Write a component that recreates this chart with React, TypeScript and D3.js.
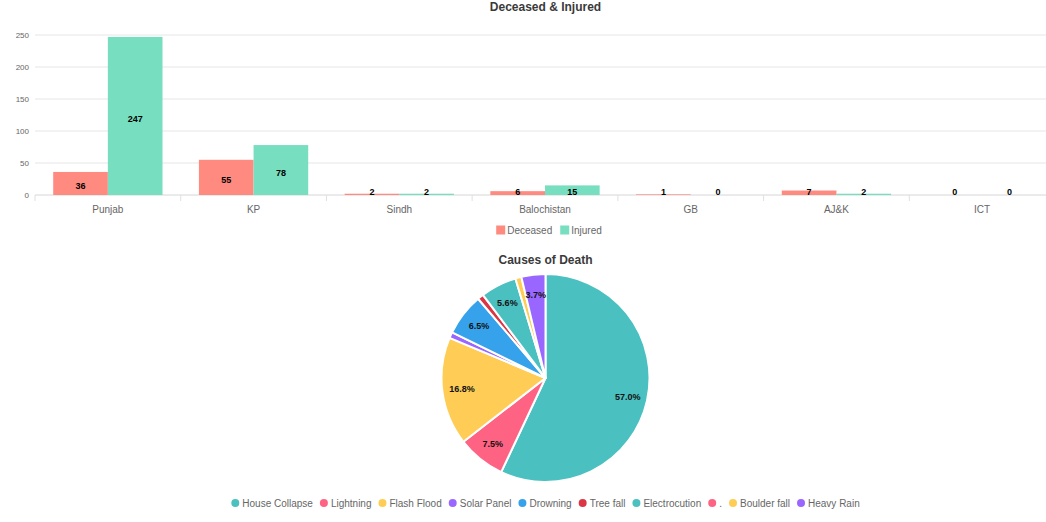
import * as d3 from "d3";

// Casualties by region, plus breakdown of causes of death.
const regions = ["Punjab", "KP", "Sindh", "Balochistan", "GB", "AJ&K", "ICT"];
const deceased = [36, 55, 2, 6, 1, 7, 0];
const injured = [247, 78, 2, 15, 0, 2, 0];
const yTicks = [0, 50, 100, 150, 200, 250];

const causes = [
  "House Collapse",
  "Lightning",
  "Flash Flood",
  "Solar Panel",
  "Drowning",
  "Tree fall",
  "Electrocution",
  ".",
  "Boulder fall",
  "Heavy Rain",
];
const causeCounts = [61, 8, 18, 1, 7, 1, 6, 0, 1, 4];
const causeColors = [
  "#4BC0C0",
  "#FF6384",
  "#FFCD56",
  "#9966FF",
  "#36A2EB",
  "#DC3545",
  "#4BC0C0",
  "#FF6384",
  "#FFCD56",
  "#9966FF",
];

const W = 1046;
const H = 522;
const FONT = '"Liberation Sans", Arial, Helvetica, sans-serif';
const SERIES = ["Deceased", "Injured"];
const SERIES_COLORS = ["#FF8A80", "#77DEBF"];

// Bar chart area
const BAR = { left: 35, right: 1055, top: 35, bottom: 195 };
// Pie
const PIE = { cx: 545.5, cy: 378, r: 104 };

const measureCtx =
  typeof document !== "undefined"
    ? document.createElement("canvas").getContext("2d")
    : null;

function textWidth(s: string, size: number) {
  if (!measureCtx) return s.length * size * 0.55;
  measureCtx.font = `${size}px ${FONT}`;
  return measureCtx.measureText(s).width;
}

export default function App() {
  const x0 = d3
    .scaleBand<string>()
    .domain(regions)
    .range([BAR.left, BAR.right])
    .paddingInner(0.25)
    .paddingOuter(0.125);
  const x1 = d3
    .scaleBand<string>()
    .domain(SERIES)
    .range([0, x0.bandwidth()]);
  const y = d3.scaleLinear().domain([0, 250]).range([BAR.bottom, BAR.top]);
  const step = x0.step();

  const values = [deceased, injured];

  const pie = d3
    .pie<number>()
    .sort(null)
    .value((d) => d)
    .startAngle(0)
    .endAngle(Math.PI * 2);
  const arcs = pie(causeCounts);
  const total = d3.sum(causeCounts);
  const arc = d3.arc<d3.PieArcDatum<number>>().innerRadius(0).outerRadius(PIE.r);
  const labelArc = d3
    .arc<d3.PieArcDatum<number>>()
    .innerRadius(PIE.r * 0.81)
    .outerRadius(PIE.r * 0.81);

  // Pie legend layout: dot, gap, label, spacing; centred under the chart.
  const legendFont = 10;
  const dot = 8;
  const items = causes.map((c) => dot + 3 + textWidth(c, legendFont));
  const gap = 7;
  const legendTotal = d3.sum(items) + gap * (items.length - 1);
  let lx = PIE.cx - legendTotal / 2;
  const legendPos = items.map((w) => {
    const p = lx;
    lx += w + gap;
    return p;
  });

  // Bar legend
  const box = 9;
  const barItems = SERIES.map((s) => box + 2 + textWidth(s, 10));
  const barGap = 8;
  const barLegendTotal = d3.sum(barItems) + barGap;
  let bx = 549 - barLegendTotal / 2;
  const barLegendPos = barItems.map((w) => {
    const p = bx;
    bx += w + barGap;
    return p;
  });

  return (
    <svg
      width={W}
      height={H}
      style={{ position: "absolute", left: 0, top: 0, background: "#fff" }}
      fontFamily={FONT}
    >
      {/* Bar chart title */}
      <text x={545.5} y={11} textAnchor="middle" fontSize={12} fontWeight="bold" fill="#3a3a3a">
        Deceased &amp; Injured
      </text>

      {/* Horizontal grid */}
      {yTicks.map((t) => (
        <g key={t}>
          <line
            x1={BAR.left}
            x2={W}
            y1={y(t)}
            y2={y(t)}
            stroke={t === 0 ? "#d6d6d6" : "#e6e6e6"}
            strokeWidth={1}
          />
          <text x={29} y={y(t)} dy="0.35em" textAnchor="end" fontSize={8} fill="#666">
            {t}
          </text>
        </g>
      ))}

      {/* Category separators */}
      {d3.range(regions.length + 1).map((i) => (
        <line
          key={i}
          x1={BAR.left + i * step}
          x2={BAR.left + i * step}
          y1={BAR.bottom}
          y2={BAR.bottom + 6}
          stroke="#e0e0e0"
        />
      ))}

      {/* Bars */}
      {regions.map((r, i) => (
        <g key={r} transform={`translate(${x0(r)},0)`}>
          {SERIES.map((s, k) => {
            const v = values[k][i];
            const top = y(v);
            return (
              <rect
                key={s}
                x={x1(s)}
                y={top}
                width={x1.bandwidth()}
                height={BAR.bottom - top}
                fill={SERIES_COLORS[k]}
              />
            );
          })}
          {SERIES.map((s, k) => {
            const v = values[k][i];
            const mid = (y(v) + BAR.bottom) / 2;
            return (
              <text
                key={s}
                x={(x1(s) ?? 0) + x1.bandwidth() / 2}
                y={Math.min(mid + 2.5, 192)}
                dy="0.35em"
                textAnchor="middle"
                fontSize={9}
                fontWeight="bold"
                fill="#000"
              >
                {v}
              </text>
            );
          })}
          <text
            x={x0.bandwidth() / 2}
            y={209}
            dy="0.35em"
            textAnchor="middle"
            fontSize={10}
            fill="#666"
          >
            {r}
          </text>
        </g>
      ))}

      {/* Bar legend */}
      {SERIES.map((s, k) => (
        <g key={s} transform={`translate(${barLegendPos[k]},230)`}>
          <rect x={0} y={-box / 2} width={box} height={box} fill={SERIES_COLORS[k]} />
          <text x={box + 2} y={0} dy="0.35em" fontSize={10} fill="#666">
            {s}
          </text>
        </g>
      ))}

      {/* Pie title */}
      <text x={545.5} y={264} textAnchor="middle" fontSize={12} fontWeight="bold" fill="#3a3a3a">
        Causes of Death
      </text>

      <g transform={`translate(${PIE.cx},${PIE.cy})`}>
        {arcs.map((a, i) =>
          a.value > 0 ? (
            <path
              key={causes[i]}
              d={arc(a) ?? ""}
              fill={causeColors[i]}
              stroke="#fff"
              strokeWidth={2}
              strokeLinejoin="round"
            />
          ) : null
        )}
        {arcs.map((a, i) => {
          const pct = (a.value / total) * 100;
          if (pct < 3) return null;
          const [cx, cy] = labelArc.centroid(a);
          return (
            <text
              key={causes[i]}
              x={cx}
              y={cy}
              dy="0.35em"
              textAnchor="middle"
              fontSize={9}
              fontWeight="bold"
              fill="#111"
            >
              {pct.toFixed(1)}%
            </text>
          );
        })}
      </g>

      {/* Pie legend */}
      {causes.map((c, i) => (
        <g key={i} transform={`translate(${legendPos[i]},503)`}>
          <circle cx={dot / 2} cy={0} r={dot / 2} fill={causeColors[i]} />
          <text x={dot + 3} y={0} dy="0.35em" fontSize={legendFont} fill="#666">
            {c}
          </text>
        </g>
      ))}
    </svg>
  );
}
